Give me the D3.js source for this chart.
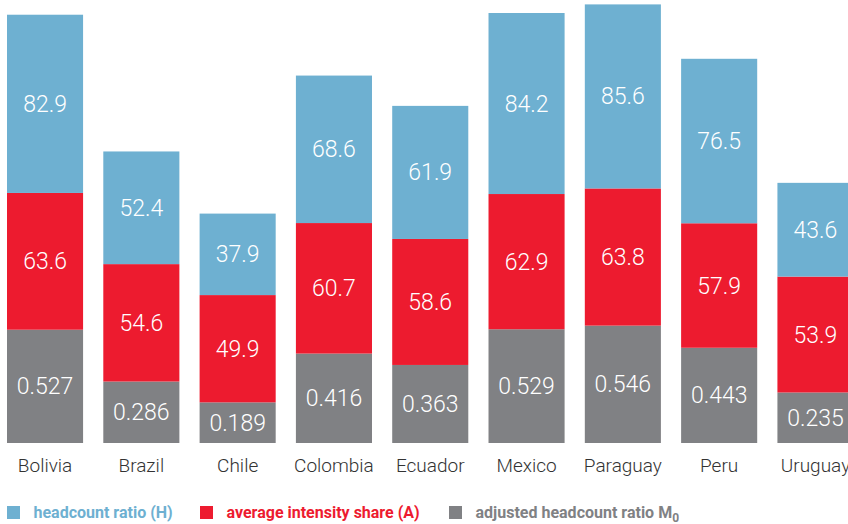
<!DOCTYPE html>
<html>
<head>
<meta charset="utf-8">
<script src="https://cdn.jsdelivr.net/npm/d3@7"></script>
<style>
  body { margin: 0; background: #fff; }
  svg { display: block; font-family: Roboto, sans-serif; }
</style>
</head>
<body>
<div id="chart"></div>
<script>
// DATA
const countries = ["Bolivia", "Brazil", "Chile", "Colombia", "Ecuador", "Mexico", "Paraguay", "Peru", "Uruguay"];
const headcount = [82.9, 52.4, 37.9, 68.6, 61.9, 84.2, 85.6, 76.5, 43.6];
const intensity = [63.6, 54.6, 49.9, 60.7, 58.6, 62.9, 63.8, 57.9, 53.9];
const adjusted = [0.527, 0.286, 0.189, 0.416, 0.363, 0.529, 0.546, 0.443, 0.235];

const width = 848, height = 524;
const colors = { m0: "#808184", a: "#ed1b2f", h: "#6eb0d1" };

// rows for stacking, M0 is drawn at x100 so it sits on the same scale
const rows = countries.map((c, i) => ({
  country: c,
  m0: adjusted[i] * 100,
  a: intensity[i],
  h: headcount[i],
  labels: { m0: adjusted[i].toFixed(3), a: intensity[i].toFixed(1), h: headcount[i].toFixed(1) }
}));

const keys = ["m0", "a", "h"];
const stack = d3.stack().keys(keys)(rows);

const svg = d3.select("#chart").append("svg")
  .attr("width", width)
  .attr("height", height);

const x = d3.scaleBand()
  .domain(countries)
  .range([7, 853.5])
  .paddingInner(0.21)
  .paddingOuter(0);

const y = d3.scaleLinear()
  .domain([0, 200])
  .range([443, 13]);

const layer = svg.selectAll(".layer")
  .data(stack)
  .join("g")
  .attr("class", "layer")
  .attr("fill", d => colors[d.key]);

layer.selectAll("rect")
  .data(d => d)
  .join("rect")
  .attr("x", d => x(d.data.country))
  .attr("y", d => y(d[1]))
  .attr("width", x.bandwidth())
  .attr("height", d => y(d[0]) - y(d[1]));

// value labels inside segments
stack.forEach(s => {
  svg.append("g").selectAll("text")
    .data(s)
    .join("text")
    .attr("x", d => x(d.data.country) + x.bandwidth() / 2)
    .attr("y", d => (y(d[0]) + y(d[1])) / 2)
    .attr("dy", "0.35em")
    .attr("text-anchor", "middle")
    .attr("fill", "#fff")
    .attr("font-family", "'Roboto Light', Roboto, sans-serif")
    .attr("font-size", 23)
    .attr("font-weight", 300)
    .text(d => d.data.labels[s.key]);
});

// country labels
const xAxis = d3.axisBottom(x).tickSize(0).tickPadding(16);
svg.append("g")
  .attr("transform", `translate(0,${y(0)})`)
  .call(xAxis)
  .call(g => g.select(".domain").remove())
  .selectAll("text")
  .attr("font-family", "'Roboto Light', Roboto, sans-serif")
  .attr("font-weight", 300)
  .attr("font-size", 19)
  .attr("fill", "#333");

// legend
const legend = [
  { key: "h", label: "headcount ratio (H)", x: 7 },
  { key: "a", label: "average intensity share (A)", x: 200 },
  { key: "m0", label: "adjusted headcount ratio M", sub: "0", x: 449 }
];

const lg = svg.selectAll(".legend")
  .data(legend)
  .join("g")
  .attr("class", "legend")
  .attr("transform", d => `translate(${d.x},506)`);

lg.append("rect")
  .attr("width", 13)
  .attr("height", 13)
  .attr("fill", d => colors[d.key]);

const lt = lg.append("text")
  .attr("x", 26.5)
  .attr("y", 12)
  .attr("font-size", 16)
  .attr("font-weight", 700)
  .attr("fill", d => colors[d.key])
  .text(d => d.label);

lt.filter(d => d.sub)
  .append("tspan")
  .attr("dy", 4)
  .attr("font-size", 12)
  .text(d => d.sub);
</script>
</body>
</html>
